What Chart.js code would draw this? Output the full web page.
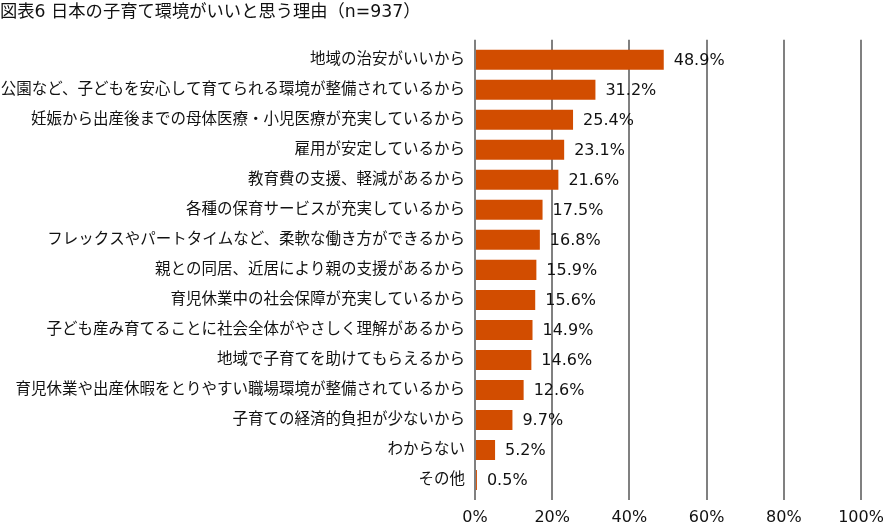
<!DOCTYPE html>
<html>
<head>
<meta charset="utf-8">
<script src="https://cdn.jsdelivr.net/npm/chart.js@4"></script>
<style>
html,body{margin:0;padding:0;background:#fff;}
#wrap{width:883px;height:524px;position:relative;overflow:hidden;}
</style>
</head>
<body>
<div id="wrap"><canvas id="c" width="883" height="524"></canvas></div>
<script>
const titleText = '図表6 日本の子育て環境がいいと思う理由（n=937）';
const categories = [
  '地域の治安がいいから',
  '公園など、子どもを安心して育てられる環境が整備されているから',
  '妊娠から出産後までの母体医療・小児医療が充実しているから',
  '雇用が安定しているから',
  '教育費の支援、軽減があるから',
  '各種の保育サービスが充実しているから',
  'フレックスやパートタイムなど、柔軟な働き方ができるから',
  '親との同居、近居により親の支援があるから',
  '育児休業中の社会保障が充実しているから',
  '子ども産み育てることに社会全体がやさしく理解があるから',
  '地域で子育てを助けてもらえるから',
  '育児休業や出産休暇をとりやすい職場環境が整備されているから',
  '子育ての経済的負担が少ないから',
  'わからない',
  'その他'
];
const values = [48.9, 31.2, 25.4, 23.1, 21.6, 17.5, 16.8, 15.9, 15.6, 14.9, 14.6, 12.6, 9.7, 5.2, 0.5];
const xTicks = [0, 20, 40, 60, 80, 100];

const FONT = '"DejaVu Sans", "Noto Sans CJK JP", sans-serif';
const GRID = '#808080';

const valueLabels = {
  id: 'valueLabels',
  beforeDatasetsDraw(chart) {
    // extend vertical grid lines slightly above the plot area
    const ctx = chart.ctx;
    const xs = chart.scales.x;
    const top = chart.chartArea.top;
    ctx.save();
    ctx.strokeStyle = GRID;
    ctx.lineWidth = 2;
    xTicks.forEach(v => {
      const px = Math.round(xs.getPixelForValue(v));
      ctx.beginPath();
      ctx.moveTo(px, top - 5);
      ctx.lineTo(px, top + 1);
      ctx.stroke();
    });
    ctx.restore();
  },
  afterDatasetsDraw(chart) {
    const ctx = chart.ctx;
    const meta = chart.getDatasetMeta(0);
    ctx.save();
    ctx.font = '16px ' + FONT;
    ctx.fillStyle = '#111';
    ctx.textAlign = 'left';
    ctx.textBaseline = 'middle';
    meta.data.forEach((bar, i) => {
      ctx.fillText(values[i].toFixed(1) + '%', bar.x + 10, bar.y + 1);
    });
    ctx.restore();
  }
};

new Chart(document.getElementById('c'), {
  type: 'bar',
  data: {
    labels: categories,
    datasets: [{
      data: values,
      backgroundColor: '#d24d00',
      borderWidth: 0,
      barPercentage: 0.667,
      categoryPercentage: 1.0
    }]
  },
  options: {
    indexAxis: 'y',
    responsive: false,
    animation: false,
    devicePixelRatio: 1,
    layout: { padding: { left: 0, right: 22, top: 0, bottom: 0 } },
    plugins: {
      legend: { display: false },
      tooltip: { enabled: false },
      title: {
        display: true,
        text: titleText,
        align: 'start',
        color: '#111',
        font: { family: FONT, size: 17.3, weight: 'normal' },
        padding: { top: 2, bottom: 22 }
      }
    },
    scales: {
      x: {
        min: 0,
        max: 100,
        afterBuildTicks(scale) { scale.ticks = xTicks.map(v => ({ value: v })); },
        afterFit(scale) { scale.height = 29; scale.paddingLeft = 0; scale.paddingRight = 0; },
        border: { display: false },
        grid: { color: GRID, lineWidth: 2, drawTicks: true, tickLength: 5, tickColor: GRID },
        ticks: {
          color: '#111',
          font: { family: FONT, size: 16 },
          padding: 8,
          maxRotation: 0,
          callback: v => v + '%'
        }
      },
      y: {
        afterFit(scale) { scale.width = 475; },
        border: { display: false },
        grid: { display: false, drawTicks: false },
        ticks: {
          color: '#111',
          font: { family: FONT, size: 15.5 },
          padding: 10,
          autoSkip: false
        }
      }
    }
  },
  plugins: [valueLabels]
});
</script>
</body>
</html>
